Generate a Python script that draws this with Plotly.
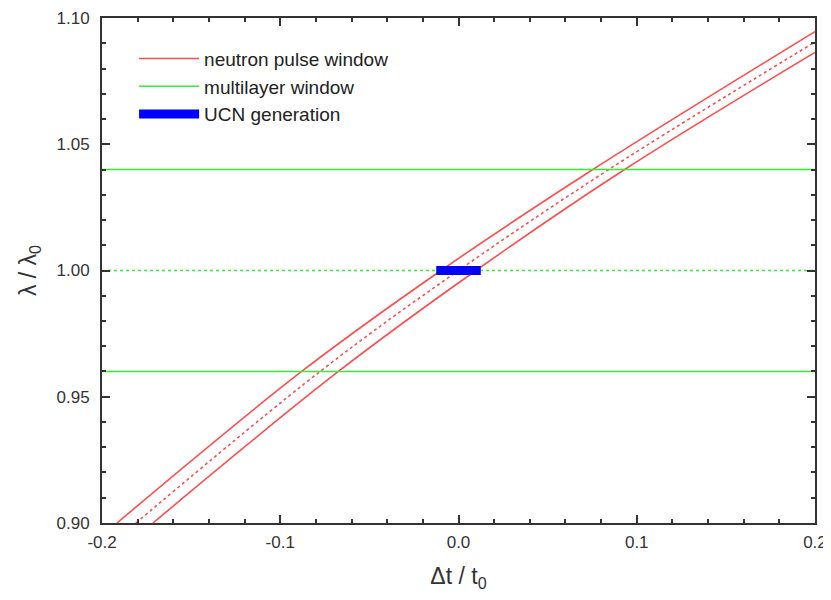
import plotly.graph_objects as go

# Data
center_x = [-0.181, -0.0777, 0.0, 0.0843, 0.2]
center_y = [0.90, 0.96, 1.00, 1.04, 1.0905]
upper_x = [-0.1916, -0.088, -0.0098, 0.0754, 0.2]
upper_y = [0.90, 0.96, 1.00, 1.04, 1.0946]
lower_x = [-0.1714, -0.0674, 0.0098, 0.0932, 0.2]
lower_y = [0.90, 0.96, 1.00, 1.04, 1.0864]
window_x = [-0.2, 0.2]
window_low = [0.96, 0.96]
window_high = [1.04, 1.04]
window_mid = [1.00, 1.00]
ucn_x = [-0.0125, 0.0125]
ucn_y = [1.00, 1.00]
x_ticks = [-0.2, -0.1, 0.0, 0.1, 0.2]
x_ticklabels = ["-0.2", "-0.1", "0.0", "0.1", "0.2"]
y_ticks = [0.90, 0.95, 1.00, 1.05, 1.10]
y_ticklabels = ["0.90", "0.95", "1.00", "1.05", "1.10"]

RED = "#ff4d4d"
GREEN = "#33ee33"
BLUE = "#0000ff"
FONT = "Liberation Sans, Arial"

fig = go.Figure()
fig.add_trace(go.Scatter(x=upper_x, y=upper_y, mode="lines", line=dict(color=RED, width=1.6, shape="spline"),
                         name="neutron pulse window", legendgroup="r"))
fig.add_trace(go.Scatter(x=lower_x, y=lower_y, mode="lines", line=dict(color=RED, width=1.6, shape="spline"),
                         showlegend=False, legendgroup="r"))
fig.add_trace(go.Scatter(x=center_x, y=center_y, mode="lines", line=dict(color=RED, width=1.6, dash="dot", shape="spline"),
                         showlegend=False, legendgroup="r"))
fig.add_trace(go.Scatter(x=window_x, y=window_high, mode="lines", line=dict(color=GREEN, width=1.6),
                         name="multilayer window", legendgroup="g"))
fig.add_trace(go.Scatter(x=window_x, y=window_low, mode="lines", line=dict(color=GREEN, width=1.6),
                         showlegend=False, legendgroup="g"))
fig.add_trace(go.Scatter(x=window_x, y=window_mid, mode="lines", line=dict(color=GREEN, width=1.6, dash="dot"),
                         showlegend=False, legendgroup="g"))
fig.add_trace(go.Scatter(x=ucn_x, y=ucn_y, mode="lines", line=dict(color=BLUE, width=9),
                         name="UCN generation", legendgroup="b"))

axis_common = dict(
    showgrid=False, zeroline=False, showline=True, linecolor="#333333", linewidth=2,
    mirror="allticks", ticks="inside", ticklen=8, tickwidth=1.5, tickcolor="#333333",
    tickfont=dict(family=FONT, size=17, color="#333333"), automargin=False,
    ticklabeloverflow="allow",
)
fig.update_xaxes(range=[-0.20001, 0.20001], tickvals=x_ticks, ticktext=x_ticklabels,
                 minor=dict(ticks="inside", dtick=0.02, ticklen=4, tickcolor="#333333", tickwidth=1.5),
                 title=dict(text="Δt / t<sub>0</sub>", font=dict(family=FONT, size=23, color="#333333"), standoff=22),
                 ticklabelstandoff=3,
                 **axis_common)
fig.update_yaxes(range=[0.899995, 1.100005], tickvals=y_ticks, ticktext=y_ticklabels,
                 minor=dict(ticks="inside", dtick=0.01, ticklen=4, tickcolor="#333333", tickwidth=1.5),
                 title=dict(text="λ / λ<sub>0</sub>", font=dict(family=FONT, size=23, color="#333333"), standoff=13),
                 ticklabelstandoff=7,
                 **axis_common)

fig.update_layout(
    width=823, height=584,
    margin=dict(l=94, r=16, t=10, b=69),
    plot_bgcolor="white", paper_bgcolor="white",
    legend=dict(x=0.045, y=0.957, xanchor="left", yanchor="top", bgcolor="rgba(0,0,0,0)",
                font=dict(family=FONT, size=19, color="#222222"),
                tracegroupgap=0, itemwidth=60, traceorder="grouped"),
    showlegend=True,
)

fig.write_html("out.html")
